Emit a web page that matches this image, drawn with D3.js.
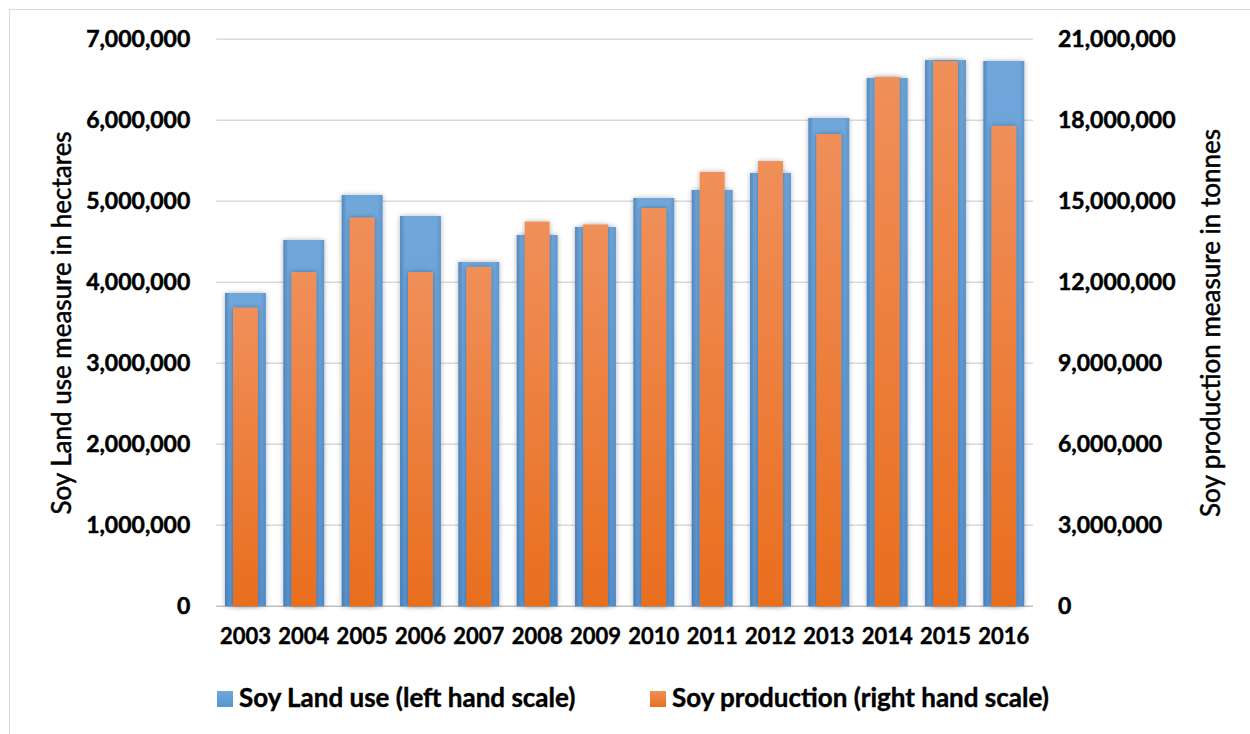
<!DOCTYPE html>
<html>
<head>
<meta charset="utf-8">
<script src="https://cdn.jsdelivr.net/npm/d3@7"></script>
<style>
	body { margin: 0; background: #fff; }
	text { font-family: Lato, "Open Sans", sans-serif; font-weight: bold; fill: #000; }
</style>
</head>
<body>
<div id="chart"></div>
<script>
var years = ["2003","2004","2005","2006","2007","2008","2009","2010","2011","2012","2013","2014","2015","2016"];
// hectares, left hand scale
var landUse = [3868000, 4522000, 5078000, 4819000, 4251000, 4584000, 4683000, 5041000, 5140000, 5349000, 6028000, 6522000, 6744000, 6732000];
// tonnes, right hand scale
var production = [11060000, 12380000, 14400000, 12380000, 12570000, 14250000, 14140000, 14750000, 16090000, 16490000, 17490000, 19600000, 20190000, 17790000];
var leftTicks = [0, 1000000, 2000000, 3000000, 4000000, 5000000, 6000000, 7000000];
var rightTicks = [0, 3000000, 6000000, 9000000, 12000000, 15000000, 18000000, 21000000];
var seriesNames = ["Soy Land use (left hand scale)", "Soy production (right hand scale)"];

var width = 1250, height = 734;
var plot = {left: 216.3, right: 1033, top: 39.3, bottom: 606.3};

var svg = d3.select("#chart").append("svg")
	.attr("width", width)
	.attr("height", height);

var defs = svg.append("defs");
var gBlue = defs.append("linearGradient").attr("id","gBlue").attr("x1",0).attr("y1",0).attr("x2",0).attr("y2",1);
gBlue.append("stop").attr("offset","0%").attr("stop-color","#70a7db");
gBlue.append("stop").attr("offset","100%").attr("stop-color","#5995d2");
var gBlueSide = defs.append("linearGradient").attr("id","gBlueSide").attr("x1",0).attr("y1",0).attr("x2",1).attr("y2",0);
gBlueSide.append("stop").attr("offset","0%").attr("stop-color","#2f5f95").attr("stop-opacity",0.45);
gBlueSide.append("stop").attr("offset","12%").attr("stop-color","#2f5f95").attr("stop-opacity",0);
gBlueSide.append("stop").attr("offset","88%").attr("stop-color","#2f5f95").attr("stop-opacity",0);
gBlueSide.append("stop").attr("offset","100%").attr("stop-color","#2f5f95").attr("stop-opacity",0.25);
var gOrange = defs.append("linearGradient").attr("id","gOrange").attr("x1",0).attr("y1",0).attr("x2",0).attr("y2",1);
gOrange.append("stop").attr("offset","0%").attr("stop-color","#f08f5a");
gOrange.append("stop").attr("offset","100%").attr("stop-color","#e96e1e");
var shadow = defs.append("filter").attr("id","shadow").attr("x","-30%").attr("y","-10%").attr("width","160%").attr("height","120%");
shadow.append("feDropShadow").attr("dx",0).attr("dy",0).attr("stdDeviation",2.5)
	.attr("flood-color","#000").attr("flood-opacity",0.3);

// outer border
svg.append("rect")
	.attr("x",9.5).attr("y",9.5)
	.attr("width",width).attr("height",height)
	.attr("fill","none")
	.attr("stroke","#d9d9d9");

var x = d3.scaleBand()
	.domain(years)
	.range([plot.left, plot.right])
	.paddingInner(0.3)
	.paddingOuter(0.15);
var yL = d3.scaleLinear().domain([0, 7000000]).range([plot.bottom, plot.top]);
var yR = d3.scaleLinear().domain([0, 21000000]).range([plot.bottom, plot.top]);

// gridlines
svg.append("g").selectAll("line")
	.data(leftTicks)
	.enter().append("line")
	.attr("x1", plot.left).attr("x2", plot.right)
	.attr("y1", function(d){ return yL(d); })
	.attr("y2", function(d){ return yL(d); })
	.attr("stroke", function(d){ return d == 0 ? "#bfbfbf" : "#d9d9d9"; })
	.attr("stroke-width", 1.5);

// land use bars
var bw = x.bandwidth();
var blue = svg.append("g");
blue.selectAll("rect.shade")
	.data(landUse)
	.enter().append("rect")
	.attr("x", function(d,i){ return x(years[i]); })
	.attr("y", function(d){ return yL(d); })
	.attr("width", bw)
	.attr("height", function(d){ return plot.bottom - yL(d); })
	.attr("fill", "url(#gBlue)")
	.attr("filter", "url(#shadow)");
blue.selectAll("rect.side")
	.data(landUse)
	.enter().append("rect")
	.attr("x", function(d,i){ return x(years[i]); })
	.attr("y", function(d){ return yL(d); })
	.attr("width", bw)
	.attr("height", function(d){ return plot.bottom - yL(d); })
	.attr("fill", "url(#gBlueSide)");

// production bars
var ow = bw * 0.61;
svg.append("g").selectAll("rect")
	.data(production)
	.enter().append("rect")
	.attr("x", function(d,i){ return x(years[i]) + (bw - ow) / 2; })
	.attr("y", function(d){ return yR(d); })
	.attr("width", ow)
	.attr("height", function(d){ return plot.bottom - yR(d); })
	.attr("fill", "url(#gOrange)")
	.attr("filter", "url(#shadow)");

// axes
var fmt = d3.format(",");
var left = svg.append("g")
	.attr("transform", "translate(" + plot.left + ",0)")
	.call(d3.axisLeft(yL).tickValues(leftTicks).tickFormat(fmt).tickSize(0).tickPadding(26));
var right = svg.append("g")
	.attr("transform", "translate(" + plot.right + ",0)")
	.call(d3.axisRight(yR).tickValues(rightTicks).tickFormat(fmt).tickSize(0).tickPadding(25));
var bottom = svg.append("g")
	.attr("transform", "translate(0," + plot.bottom + ")")
	.call(d3.axisBottom(x).tickSize(0).tickPadding(22));
[left, right].forEach(function(g){
	g.select(".domain").remove();
	g.selectAll("text")
		.attr("font-family", "Lato, sans-serif")
		.attr("font-weight", "bold")
		.attr("font-size", 23)
		.attr("fill", "#000")
		.attr("stroke", "#000")
		.attr("stroke-width", 0.5);
});
bottom.select(".domain").remove();
bottom.selectAll("text")
	.attr("font-family", "Lato, sans-serif")
	.attr("font-weight", "bold")
	.attr("font-size", 22)
	.attr("fill", "#000")
	.attr("stroke", "#000")
	.attr("stroke-width", 0.4);

// axis titles
svg.append("text")
	.attr("transform", "translate(71,323) rotate(-90)")
	.attr("text-anchor", "middle")
	.attr("font-size", 26)
	.style("font-weight", "normal")
	.attr("stroke", "#000")
	.attr("stroke-width", 0.5)
	.text("Soy Land use measure in hectares");
svg.append("text")
	.attr("transform", "translate(1220,323) rotate(-90)")
	.attr("text-anchor", "middle")
	.attr("font-size", 26)
	.style("font-weight", "normal")
	.attr("stroke", "#000")
	.attr("stroke-width", 0.5)
	.text("Soy production measure in tonnes");

// legend
var legendX = [217, 650];
var legendFill = ["url(#gBlue)", "url(#gOrange)"];
var legend = svg.append("g").selectAll("g")
	.data(seriesNames)
	.enter().append("g")
	.attr("transform", function(d,i){ return "translate(" + legendX[i] + ",691)"; });
legend.append("rect")
	.attr("width", 16).attr("height", 16)
	.attr("fill", function(d,i){ return legendFill[i]; });
legend.append("text")
	.attr("x", 22).attr("y", 16)
	.attr("font-size", 26)
	.attr("stroke", "#000")
	.attr("stroke-width", 0.4)
	.text(function(d){ return d; });
</script>
</body>
</html>
